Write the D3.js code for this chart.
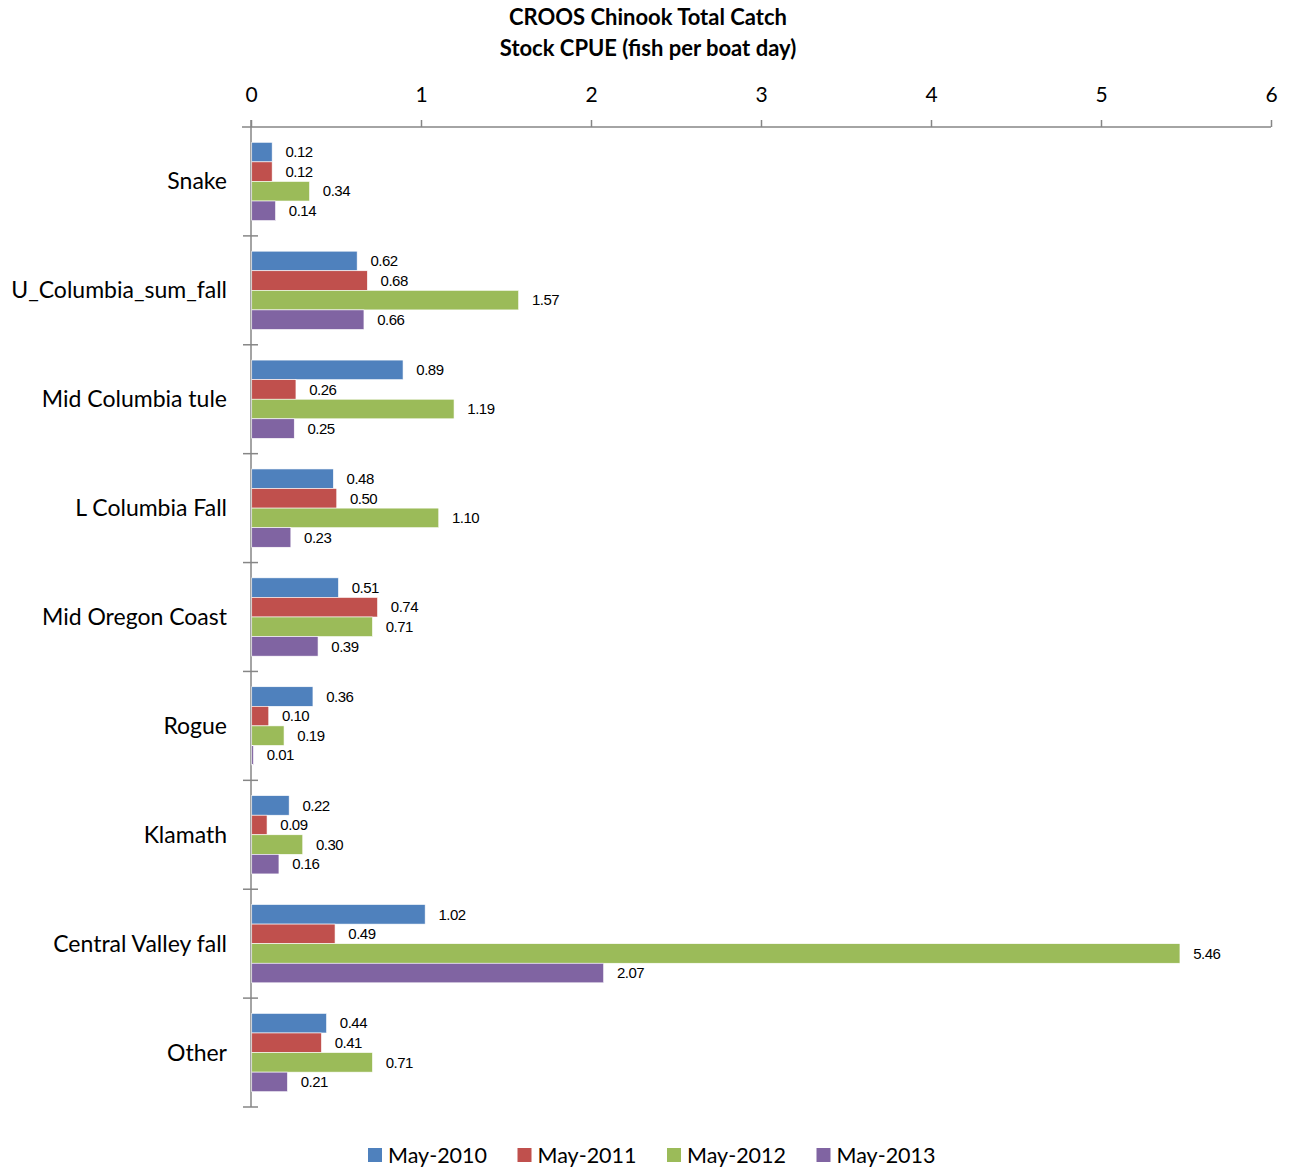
<!DOCTYPE html>
<html lang="en">
<head>
  <meta charset="UTF-8">
  <title>CROOS Chinook Total Catch</title>
  <script src="https://d3js.org/d3.v7.min.js"></script>
  <style>
    body {
      margin: 0;
      background-color: #ffffff;
    }
    .title {
      font-family: Lato, "Open Sans", sans-serif;
      font-size: 22px;
      font-weight: bold;
      fill: #000;
    }
    .x-axis text, .cat-label, .legend text {
      font-family: Lato, "Open Sans", sans-serif;
      fill: #000;
    }
    .x-axis text { font-size: 21px; }
    .cat-label { font-size: 23px; }
    .legend text { font-size: 21.5px; }
    .val {
      font-family: "Liberation Sans Narrow", "Arial Narrow", "Liberation Sans", sans-serif;
      font-size: 15px;
      letter-spacing: -0.5px;
      fill: #000;
    }
  </style>
</head>
<body>
  <svg id="chart"></svg>
  <script>
    const categories = ["Snake", "U_Columbia_sum_fall", "Mid Columbia tule", "L Columbia Fall",
      "Mid Oregon Coast", "Rogue", "Klamath", "Central Valley fall", "Other"];
    const seriesNames = ["May-2010", "May-2011", "May-2012", "May-2013"];
    const may2010 = [0.12, 0.62, 0.89, 0.48, 0.51, 0.36, 0.22, 1.02, 0.44];
    const may2011 = [0.12, 0.68, 0.26, 0.50, 0.74, 0.10, 0.09, 0.49, 0.41];
    const may2012 = [0.34, 1.57, 1.19, 1.10, 0.71, 0.19, 0.30, 5.46, 0.71];
    const may2013 = [0.14, 0.66, 0.25, 0.23, 0.39, 0.01, 0.16, 2.07, 0.21];
    const xTicks = [0, 1, 2, 3, 4, 5, 6];
    const colors = ["#4F81BD", "#C0504D", "#9BBB59", "#8064A2"];

    const seriesValues = [may2010, may2011, may2012, may2013];

    const svgWidth = 1293, svgHeight = 1167;
    const plotLeft = 251, plotRight = 1271, plotTop = 127, plotBottom = 1107;

    const svg = d3.select("#chart")
      .attr("width", svgWidth)
      .attr("height", svgHeight);

    // title
    svg.append("text").attr("class", "title")
      .attr("x", 648).attr("y", 25).attr("text-anchor", "middle")
      .text("CROOS Chinook Total Catch");
    svg.append("text").attr("class", "title")
      .attr("x", 648).attr("y", 56).attr("text-anchor", "middle")
      .text("Stock CPUE (fish per boat day)");

    const x = d3.scaleLinear().domain([0, 6]).range([plotLeft, plotRight]);
    const y = d3.scaleBand().domain(categories).range([plotTop, plotBottom]).padding(0);
    const bandPad = 15.3;
    const yInner = d3.scaleBand().domain(seriesNames)
      .range([bandPad, y.bandwidth() - bandPad]).padding(0);

    // x axis at top
    const xAxis = svg.append("g").attr("class", "x-axis")
      .attr("transform", `translate(0, ${plotTop})`)
      .call(d3.axisTop(x).tickValues(xTicks).tickFormat(d3.format("d")).tickSize(7).tickPadding(18));
    xAxis.select(".domain").attr("stroke", "#868686").attr("stroke-width", 1.5)
      .attr("d", `M${plotLeft - 9},0H${plotRight}`);
    xAxis.selectAll(".tick line").attr("stroke", "#868686").attr("stroke-width", 1.5);

    // y axis (category boundaries)
    const yAxis = svg.append("g").attr("class", "y-axis");
    yAxis.append("line")
      .attr("x1", plotLeft).attr("x2", plotLeft)
      .attr("y1", plotTop - 7).attr("y2", plotBottom)
      .attr("stroke", "#868686").attr("stroke-width", 1.5);
    yAxis.selectAll(".ytick")
      .data(categories)
      .enter()
      .append("line")
      .attr("class", "ytick")
      .attr("x1", plotLeft - 8).attr("x2", plotLeft + 7)
      .attr("y1", d => y(d) + y.bandwidth())
      .attr("y2", d => y(d) + y.bandwidth())
      .attr("stroke", "#868686").attr("stroke-width", 1.5);

    svg.selectAll(".cat-label")
      .data(categories)
      .enter()
      .append("text")
      .attr("class", "cat-label")
      .attr("x", plotLeft - 24)
      .attr("y", d => y(d) + y.bandwidth() / 2)
      .attr("dy", "0.35em")
      .attr("text-anchor", "end")
      .text(d => d);

    // bars
    seriesNames.forEach((name, si) => {
      const rows = categories.map((c, i) => ({ cat: c, value: seriesValues[si][i] }));
      const g = svg.append("g");
      g.selectAll("rect")
        .data(rows)
        .enter()
        .append("rect")
        .attr("x", x(0) + 0.75)
        .attr("y", d => y(d.cat) + yInner(name))
        .attr("width", d => x(d.value) - x(0))
        .attr("height", yInner.bandwidth())
        .attr("fill", colors[si])
        .attr("stroke", "#ffffff")
        .attr("stroke-width", 0.6);
      g.selectAll("text")
        .data(rows)
        .enter()
        .append("text")
        .attr("class", "val")
        .attr("x", d => x(d.value) + 14)
        .attr("y", d => y(d.cat) + yInner(name) + yInner.bandwidth() / 2)
        .attr("dy", "0.35em")
        .text(d => d.value.toFixed(2));
    });

    // legend
    const legend = svg.append("g").attr("class", "legend")
      .attr("transform", "translate(368, 1155)");
    const item = legend.selectAll("g")
      .data(seriesNames)
      .enter()
      .append("g")
      .attr("transform", (d, i) => `translate(${i * 149.5}, 0)`);
    item.append("rect")
      .attr("x", 0).attr("y", -7)
      .attr("width", 14).attr("height", 14)
      .attr("fill", (d, i) => colors[i]);
    item.append("text")
      .attr("x", 20).attr("y", 0)
      .attr("dy", "0.36em")
      .text(d => d);
  </script>
</body>
</html>
